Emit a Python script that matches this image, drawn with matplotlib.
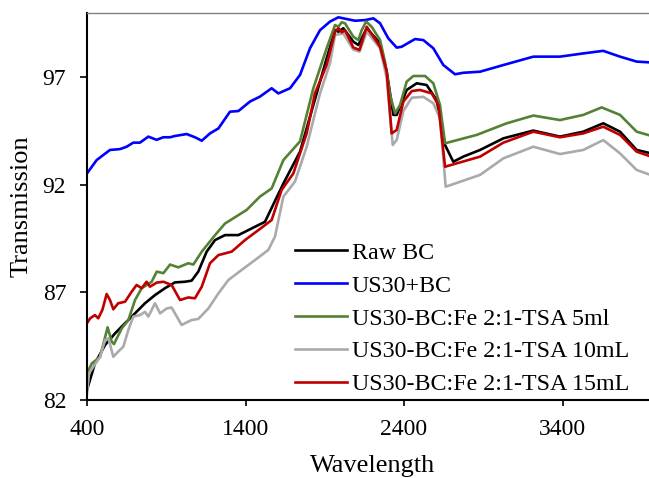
import numpy as np
import matplotlib
matplotlib.use('Agg')
import matplotlib.pyplot as plt
from matplotlib import rcParams

rcParams['font.family'] = 'serif'
rcParams['font.serif'] = ['Liberation Serif', 'DejaVu Serif']
rcParams['font.size'] = 17

# Raw BC
raw_x = [400, 450, 514, 577, 640, 703, 766, 829, 892, 955, 1018, 1060, 1102, 1155, 1208, 1271,
         1355, 1439, 1523, 1639, 1744, 1828, 1912, 1965, 1986, 2017, 2080, 2112, 2165, 2249,
         2291, 2333, 2354, 2417, 2480, 2543, 2606, 2659, 2711, 2774, 2880, 3027, 3216, 3384,
         3531, 3657, 3763, 3868, 4000]
raw_y = [82.47, 83.7, 84.56, 85.1, 85.57, 86.03, 86.5, 86.88, 87.2, 87.47, 87.5, 87.55, 87.97,
         88.9, 89.44, 89.67, 89.67, 89.98, 90.29, 92.07, 93.55, 95.72, 97.89, 99.21, 99.13,
         99.29, 98.67, 98.51, 99.29, 98.59, 97.27, 95.26, 95.26, 96.42, 96.73, 96.65, 95.95,
         93.86, 93.08, 93.32, 93.63, 94.17, 94.53, 94.25, 94.48, 94.87, 94.48, 93.63, 93.4]

# US30+BC
us_x = [400, 461, 545, 608, 650, 692, 734, 787, 839, 881, 924, 955, 1029, 1081, 1124, 1176,
        1229, 1302, 1355, 1428, 1491, 1565, 1607, 1681, 1744, 1807, 1870, 1933, 1986, 2038,
        2091, 2154, 2207, 2249, 2301, 2354, 2385, 2470, 2522, 2585, 2648, 2722, 2774, 2880,
        3027, 3216, 3384, 3531, 3657, 3763, 3868, 4000]
us_y = [92.54, 93.16, 93.63, 93.67, 93.78, 93.97, 93.97, 94.25, 94.1, 94.22, 94.22, 94.28,
        94.37, 94.22, 94.06, 94.4, 94.63, 95.41, 95.44, 95.88, 96.11, 96.5, 96.26, 96.5, 97.12,
        98.36, 99.2, 99.6, 99.8, 99.72, 99.64, 99.67, 99.75, 99.52, 98.82, 98.39, 98.43, 98.79,
        98.74, 98.36, 97.58, 97.15, 97.22, 97.27, 97.58, 97.97, 97.97, 98.12, 98.24, 97.97,
        97.74, 97.68]

# US30-BC:Fe 2:1-TSA 5ml
g5_x = [400, 430, 482, 530, 556, 570, 619, 661, 703, 745, 808, 840, 882, 924, 976, 1039,
        1071, 1124, 1208, 1271, 1323, 1407, 1491, 1565, 1639, 1744, 1828, 1912, 1965, 1986,
        2007, 2028, 2080, 2112, 2133, 2161, 2196, 2249, 2280, 2312, 2344, 2375, 2417, 2459,
        2533, 2585, 2627, 2659, 2859, 3048, 3216, 3384, 3531, 3647, 3763, 3868, 4000]
g5_y = [83.24, 83.7, 84.0, 85.38, 84.71, 84.6, 85.33, 85.72, 86.65, 87.2, 87.5, 87.97, 87.9,
        88.3, 88.17, 88.36, 88.3, 88.9, 89.67, 90.21, 90.45, 90.84, 91.46, 91.84, 93.16, 94.03,
        96.5, 98.36, 99.44, 99.36, 99.57, 99.52, 98.9, 98.74, 99.2, 99.6, 99.36, 98.74, 97.73,
        96.19, 95.33, 95.72, 96.81, 97.07, 97.07, 96.73, 95.72, 93.94, 94.33, 94.87, 95.23,
        95.02, 95.26, 95.61, 95.26, 94.48, 94.2]

# US30-BC:Fe 2:1-TSA 10mL
g10_x = [400, 413, 440, 482, 514, 535, 566, 597, 629, 661, 692, 734, 766, 787, 829, 861,
         903, 934, 955, 997, 1060, 1102, 1166, 1229, 1292, 1376, 1460, 1544, 1586, 1639,
         1712, 1786, 1870, 1933, 1965, 2017, 2080, 2119, 2165, 2249, 2291, 2329, 2354, 2396,
         2449, 2522, 2585, 2627, 2663, 2880, 3027, 3216, 3384, 3531, 3657, 3763, 3868, 4000]
g10_y = [82.31, 83.24, 83.55, 84.0, 84.79, 84.87, 84.01, 84.25, 84.48, 85.26, 85.88, 85.95,
         86.1, 85.88, 86.5, 86.03, 86.26, 86.3, 86.03, 85.49, 85.72, 85.77, 86.26, 86.96,
         87.58, 88.05, 88.51, 88.98, 89.6, 91.46, 92.16, 93.78, 96.26, 97.66, 98.98, 99.05,
         98.3, 98.2, 99.13, 98.36, 96.97, 93.86, 94.1, 95.44, 96.06, 96.1, 95.8, 95.1, 91.92,
         92.47, 93.24, 93.78, 93.44, 93.63, 94.09, 93.47, 92.7, 92.35]

# US30-BC:Fe 2:1-TSA 15mL
g15_x = [400, 420, 450, 471, 497, 524, 545, 566, 597, 640, 682, 713, 745, 776, 797, 840,
         882, 934, 987, 1039, 1081, 1124, 1176, 1229, 1313, 1397, 1481, 1565, 1628, 1702,
         1786, 1838, 1912, 1965, 1986, 2007, 2028, 2080, 2119, 2165, 2249, 2291, 2322, 2354,
         2396, 2449, 2501, 2575, 2617, 2659, 2880, 3027, 3216, 3384, 3531, 3657, 3763, 3868,
         4000]
g15_y = [85.57, 85.8, 85.95, 85.8, 86.19, 86.93, 86.65, 86.22, 86.5, 86.57, 87.04, 87.35,
         87.2, 87.5, 87.27, 87.46, 87.5, 87.35, 86.65, 86.77, 86.73, 87.27, 88.36, 88.74, 88.9,
         89.44, 89.9, 90.37, 91.77, 92.54, 94.4, 96.26, 97.58, 99.13, 99.29, 99.1, 99.2, 98.4,
         98.28, 99.36, 98.43, 97.27, 94.4, 94.56, 95.88, 96.37, 96.42, 96.26, 95.72, 92.85,
         93.32, 93.97, 94.48, 94.22, 94.4, 94.71, 94.33, 93.55, 93.22]

series = [
    ('Raw BC', raw_x, raw_y, '#000000'),
    ('US30+BC', us_x, us_y, '#0000FF'),
    ('US30-BC:Fe 2:1-TSA 5ml', g5_x, g5_y, '#548235'),
    ('US30-BC:Fe 2:1-TSA 10mL', g10_x, g10_y, '#AAAAAA'),
    ('US30-BC:Fe 2:1-TSA 15mL', g15_x, g15_y, '#C00000'),
]

fig = plt.figure(figsize=(6.49, 4.78), dpi=100)
ax = fig.add_axes([87 / 649, 78 / 478, (657.6 - 87) / 649, 387 / 478])

for label, x, y, c in series:
    ax.plot(x, y, color=c, lw=1.9, label=label, solid_joinstyle='round')

ax.set_xlim(400, 4000)
ax.set_ylim(82, 100)
ax.set_xticks([400, 1400, 2400, 3400])
ax.set_yticks([82, 87, 92, 97])
ax.tick_params(axis='x', direction='out', length=4, width=1.2, pad=9.5, labelsize=17)
ax.tick_params(axis='y', direction='out', length=5, width=1.2, pad=10, labelsize=17)
ax.spines['right'].set_visible(False)
ax.spines['top'].set_color('#808080')
ax.spines['top'].set_linewidth(1.0)
for s in ['left', 'bottom']:
    ax.spines[s].set_linewidth(1.5)
    ax.spines[s].set_color('black')

ax.set_xlabel('Wavelength', fontsize=19)
ax.set_ylabel('Transmission', fontsize=19)
ax.xaxis.set_label_coords(0.5, -0.142)
ax.yaxis.set_label_coords(-0.0946, 0.5)

ax.legend(loc='upper left', bbox_to_anchor=(295 / 649, 1 - 242 / 478),
          bbox_transform=fig.transFigure, frameon=False, fontsize=17.3,
          handlelength=2.17, handletextpad=0.2, labelspacing=0.46,
          borderpad=0, borderaxespad=0)

fig.savefig('out.png', dpi=100)
